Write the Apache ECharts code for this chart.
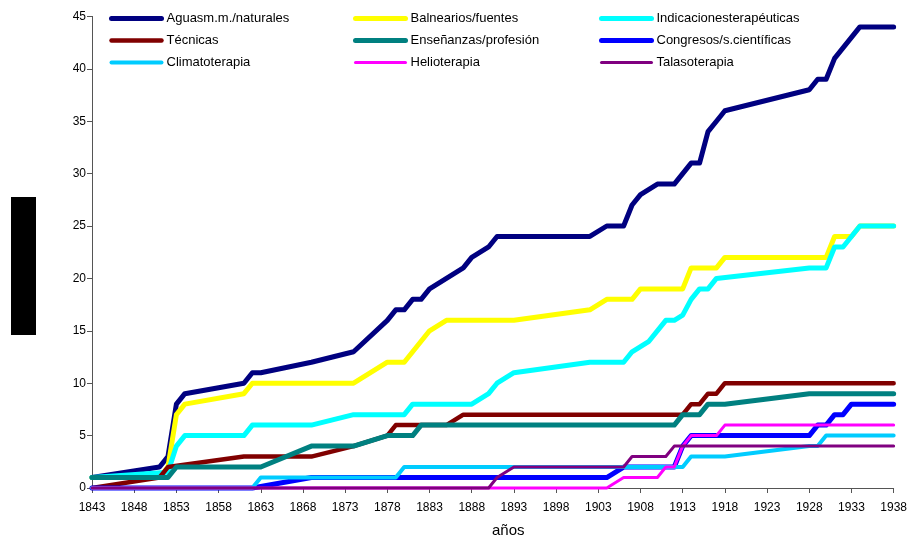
<!DOCTYPE html>
<html>
<head>
<meta charset="utf-8">
<script src="https://cdn.jsdelivr.net/npm/echarts@6/dist/echarts.min.js"></script>
<style>
html,body{margin:0;padding:0;background:#fff;}
#c{width:910px;height:536px;}
</style>
</head>
<body>
<div id="c"></div>
<script>
// ---- data (year, cumulative count) ----
const seriesNames = ['Aguasm.m./naturales','Balnearios/fuentes','Indicacionesterapéuticas','Técnicas','Enseñanzas/profesión','Congresos/s.científicas','Climatoterapia','Helioterapia','Talasoterapia'];
const xTickYears = [1843,1848,1853,1858,1863,1868,1873,1878,1883,1888,1893,1898,1903,1908,1913,1918,1923,1928,1933,1938];

const aguas = [[1843,1],[1851,2],[1852,3],[1853,8],[1854,9],[1861,10],[1862,11],[1863,11],[1869,12],[1874,13],[1878,16],[1879,17],[1880,17],[1881,18],[1882,18],[1883,19],[1885,20],[1887,21],[1888,22],[1890,23],[1891,24],[1902,24],[1904,25],[1906,25],[1907,27],[1908,28],[1910,29],[1912,29],[1914,31],[1915,31],[1916,34],[1917,35],[1918,36],[1928,38],[1929,39],[1930,39],[1931,41],[1932,42],[1933,43],[1934,44],[1938,44]];
const balnearios = [[1843,1],[1851,1],[1852,2],[1853,7],[1854,8],[1861,9],[1862,10],[1874,10],[1878,12],[1880,12],[1881,13],[1883,15],[1885,16],[1893,16],[1902,17],[1904,18],[1907,18],[1908,19],[1913,19],[1914,21],[1917,21],[1918,22],[1930,22],[1931,24],[1933,24],[1934,25],[1938,25]];
const indicaciones = [[1843,1],[1852,1.5],[1853,4],[1854,5],[1861,5],[1862,6],[1869,6],[1874,7],[1880,7],[1881,8],[1888,8],[1890,9],[1891,10],[1893,11],[1902,12],[1906,12],[1907,13],[1909,14],[1911,16],[1912,16],[1913,16.5],[1914,18],[1915,19],[1916,19],[1917,20],[1928,21],[1930,21],[1931,23],[1932,23],[1934,25],[1938,25]];
const tecnicas = [[1843,0],[1851,1],[1852,2],[1861,3],[1869,3],[1874,4],[1878,5],[1879,6],[1885,6],[1887,7],[1913,7],[1914,8],[1915,8],[1916,9],[1917,9],[1918,10],[1938,10]];
const ensenanzas = [[1843,1],[1852,1],[1853,2],[1863,2],[1869,4],[1874,4],[1878,5],[1881,5],[1882,6],[1912,6],[1913,7],[1915,7],[1916,8],[1918,8],[1928,9],[1938,9]];
const congresos = [[1843,0],[1862,0],[1869,1],[1904,1],[1906,2],[1912,2],[1913,4],[1914,5],[1928,5],[1929,6],[1930,6],[1931,7],[1932,7],[1933,8],[1938,8]];
const climatoterapia = [[1843,0],[1862,0],[1863,1],[1879,1],[1880,2],[1913,2],[1914,3],[1918,3],[1928,4],[1929,4],[1930,5],[1938,5]];
const helioterapia = [[1843,0],[1904,0],[1906,1],[1910,1],[1911,2],[1912,2],[1913,4],[1914,5],[1917,5],[1918,6],[1938,6]];
const talasoterapia = [[1843,0],[1890,0],[1891,1],[1893,2],[1906,2],[1907,3],[1911,3],[1912,4],[1938,4]];

const allData = [aguas,balnearios,indicaciones,tecnicas,ensenanzas,congresos,climatoterapia,helioterapia,talasoterapia];
const colors = ['#000080','#FFFF00','#00FFFF','#800000','#008080','#0000FF','#00CCFF','#FF00FF','#800080'];
const widths = [5,5,5,4.5,5,5,4,3,3];

const FONT = 'Liberation Sans, Arial, sans-serif';
const chart = echarts.init(document.getElementById('c'), null, {renderer:'canvas'});

const series = allData.map((d,i)=>({
  name: seriesNames[i],
  type: 'line',
  data: d,
  symbol: 'none',
  showSymbol: false,
  clip: false,
  color: colors[i],
  lineStyle: {color: colors[i], width: widths[i], cap: 'round', join: 'round'},
  emphasis: {disabled: true},
  z: 2 + i
}));

function legendCol(left, idx){
  return {
    orient: 'vertical',
    left: left,
    top: 12,
    padding: 0,
    itemWidth: 50,
    itemHeight: 14,
    itemGap: 9,
    data: idx.map(i => ({name: seriesNames[i], lineStyle: {width: widths[i], cap: 'round'}})),
    itemStyle: {opacity: 0, borderWidth: 0},
    lineStyle: {width: 'inherit', cap: 'round'},
    textStyle: {fontFamily: FONT, fontSize: 13, color: '#000'},
    selectedMode: false
  };
}

chart.setOption({
  animation: false,
  color: colors,
  grid: {left: 92, right: 15, top: 16.4, bottom: 48, containLabel: false},
  legend: [
    legendCol(109, [0,3,6]),
    legendCol(353, [1,4,7]),
    legendCol(599, [2,5,8])
  ],
  xAxis: {
    type: 'value',
    min: 1843,
    max: 1938,
    axisLine: {show: true, onZero: false, lineStyle: {color: '#555', width: 1}},
    axisTick: {show: true, length: 5, lineStyle: {color: '#555'}, customValues: xTickYears},
    axisLabel: {customValues: xTickYears, formatter: v => String(v), fontFamily: FONT, fontSize: 12, color: '#000', margin: 14},
    splitLine: {show: false}
  },
  yAxis: {
    type: 'value',
    min: 0,
    max: 45,
    interval: 5,
    axisLine: {show: true, lineStyle: {color: '#555', width: 1}},
    axisTick: {show: true, length: 5, lineStyle: {color: '#555'}},
    axisLabel: {fontFamily: FONT, fontSize: 12, color: '#000', margin: 6},
    splitLine: {show: false}
  },
  graphic: [
    {type: 'rect', left: 11, top: 197, shape: {width: 25, height: 138}, style: {fill: '#000'}},
    {type: 'text', left: 492, top: 523, style: {text: 'años', font: '15px Liberation Sans', fill: '#000'}}
  ],
  series: series
});
</script>
</body>
</html>
